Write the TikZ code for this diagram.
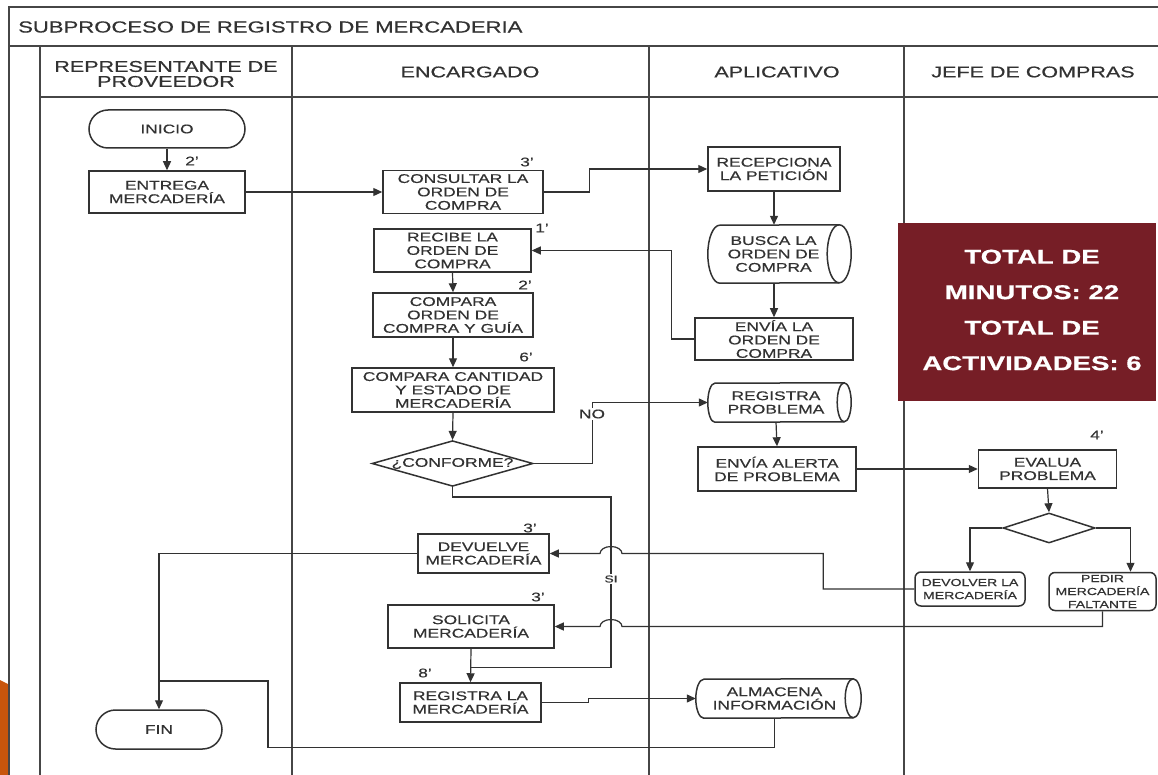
\documentclass[tikz,border=0pt]{standalone}
\usepackage{fontspec}
\setmainfont{Liberation Sans}[FakeStretch=1.38, FakeBold=0.5]
\usetikzlibrary{arrows.meta,shapes.geometric,shapes.misc,calc}

\definecolor{ink}{RGB}{50,50,50}
\definecolor{rulegray}{RGB}{70,70,70}
\definecolor{maroon}{RGB}{118,30,38}
\definecolor{accent}{RGB}{200,85,12}

\newcommand\txttitle{\fontsize{16}{18}\selectfont}
\newcommand\txthead{\fontsize{15.6}{15}\selectfont}
\newcommand\txtbox{\fontsize{12.6}{13.4}\selectfont}
\newcommand\txtsmall{\fontsize{10.2}{13}\selectfont}
\newcommand\txtsi{\fontsize{10}{12}\selectfont}
\newcommand\txttotal{\fontsize{20}{35.5}\selectfont\bfseries}

\tikzset{
  gridline/.style={draw=rulegray, line width=1.6pt},
  box/.style={draw=ink, line width=1.5pt, text=ink, align=center, inner sep=1pt, font=\txtbox},
  term/.style={box, rounded rectangle},
  soft/.style={box, rounded corners=6pt, font=\txtsmall},
  decision/.style={box, diamond, inner sep=0pt},
  storebody/.style={draw=none, text=ink, align=center, inner sep=1pt, font=\txtbox},
  storeline/.style={draw=ink, line width=1.5pt},
  flow/.style={draw=ink, line width=1.2pt, -{Triangle[length=9pt,width=8pt]}},
  link/.style={draw=ink, line width=1.2pt},
  timelab/.style={text=ink, font=\txtbox, inner sep=0pt},
  lanehead/.style={text=ink, font=\txthead, align=center},
}

% horizontal storage drum: convex left end, open ellipse on the right
\newcommand\storenode[6]{%
  \node[storebody, minimum width=#3pt, minimum height=#4pt] (#1) at #2 {#6};
  \draw[storeline] ([xshift=#5pt]#1.south west)
      arc[start angle=90, end angle=270, x radius=#5, y radius=#4/2]
      -- (#1.north east)
      arc[start angle=270, end angle=450, x radius=#5, y radius=#4/2] -- cycle;
  \draw[storeline] (#1.north east)
      arc[start angle=270, end angle=90, x radius=#5, y radius=#4/2];
}

\begin{document}
\begin{tikzpicture}[x=1pt, y=-1pt]
\useasboundingbox (0,0) rectangle (1158,775);
\fill[white] (0,0) rectangle (1158,775);

% accent strip at the lower left edge
\fill[accent] (0,680) -- (8,684) -- (8,775) -- (0,775) -- cycle;

% pool and lanes
\draw[gridline] (9,775) -- (9,7) -- (1160,7);
\draw[gridline] (9,46) -- (1160,46);
\draw[gridline] (40,775) -- (40,46);
\draw[gridline] (40,97) -- (1160,97);
\draw[gridline] (292,46) -- (292,775);
\draw[gridline] (649,46) -- (649,775);
\draw[gridline] (904,46) -- (904,775);

\node[anchor=west, text=ink, font=\txttitle, inner sep=0pt] (title) at (18,27) {SUBPROCESO DE REGISTRO DE MERCADERIA};
\node[lanehead] (h1) at (166,74) {REPRESENTANTE DE\\PROVEEDOR};
\node[lanehead] (h2) at (470,72) {ENCARGADO};
\node[lanehead] (h3) at (777,72) {APLICATIVO};
\node[lanehead] (h4) at (1033,72) {JEFE DE COMPRAS};

% representante de proveedor
\node[term, minimum width=158pt, minimum height=38pt] (inicio) at (167,129) {INICIO};
\node[box, minimum width=156pt, minimum height=42pt] (entrega) at (167,192) {ENTREGA\\MERCADERÍA};
\node[term, minimum width=128pt, minimum height=39pt] (fin) at (159,729.5) {FIN};

% encargado
\node[box, minimum width=160pt, minimum height=43pt] (consultar) at (463,192) {CONSULTAR LA\\ORDEN DE\\COMPRA};
\node[box, minimum width=157pt, minimum height=43pt] (recibe) at (452.5,250.5) {RECIBE LA\\ORDEN DE\\COMPRA};
\node[box, minimum width=160pt, minimum height=44pt] (compara) at (453,315) {COMPARA\\ORDEN DE\\COMPRA Y GUÍA};
\node[box, minimum width=202pt, minimum height=44pt] (compcant) at (453,390) {COMPARA CANTIDAD\\Y ESTADO DE\\MERCADERÍA};
\node[decision, minimum width=161pt, minimum height=45pt, aspect=3.5] (conf) at (452.5,463.5) {¿CONFORME?};
\node[box, minimum width=131pt, minimum height=39pt] (devuelve) at (483.5,553.5) {DEVUELVE\\MERCADERÍA};
\node[box, minimum width=166pt, minimum height=43pt] (solicita) at (471,626.5) {SOLICITA\\MERCADERÍA};
\node[box, minimum width=141pt, minimum height=39pt] (regm) at (470.5,702.5) {REGISTRA LA\\MERCADERÍA};

% aplicativo
\node[box, minimum width=132pt, minimum height=44pt] (recep) at (774,169) {RECEPCIONA\\LA PETICIÓN};
\storenode{busca}{(773.5,254)}{131}{58}{12}{BUSCA LA\\ORDEN DE\\COMPRA}
\node[box, minimum width=158pt, minimum height=42pt] (enviao) at (774,339) {ENVÍA LA\\ORDEN DE\\COMPRA};
\storenode{regprob}{(776,402.5)}{136}{39}{7}{REGISTRA\\PROBLEMA}
\node[box, minimum width=158pt, minimum height=44pt] (alerta) at (777,469) {ENVÍA ALERTA\\DE PROBLEMA};
\storenode{alm}{(774.5,698.5)}{157}{39}{8}{ALMACENA\\INFORMACIÓN}

% jefe de compras
\node[box, minimum width=138pt, minimum height=38pt] (evalua) at (1047.5,469) {EVALUA\\PROBLEMA};
\node[decision, minimum width=92pt, minimum height=30pt, aspect=3] (dec) at (1049,528) {};
\node[soft, minimum width=110pt, minimum height=34pt] (devolver) at (970,589) {DEVOLVER LA\\MERCADERÍA};
\node[soft, minimum width=107pt, minimum height=38pt] (pedir) at (1102.5,591.5) {PEDIR\\MERCADERÍA\\FALTANTE};

% time labels
\node[timelab] (m1) at (192,161) {2'};
\node[timelab] (m2) at (527,162) {3'};
\node[timelab] (m3) at (542,228) {1'};
\node[timelab] (m4) at (525,285) {2'};
\node[timelab] (m5) at (526,357) {6'};
\node[timelab] (m6) at (530,528) {3'};
\node[timelab] (m7) at (538,597) {3'};
\node[timelab] (m8) at (425,673) {8'};
\node[timelab] (m9) at (1097,435) {4'};

% helper points for the routed lines
\coordinate (hopx) at (611,497);
\coordinate (sij) at ($(regm.north)+(0,-15)$);
\coordinate (loopc) at (268,681);

% connectors
\draw[flow] (inicio.south) -- (entrega.north);
\draw[flow] (entrega.east) -- (consultar.west);
\draw[flow] (consultar.east) -- ++(46,0) |- (recep.west);
\draw[flow] (recep.south) -- (recep.south |- busca.north);
\draw[flow] (recep.south |- busca.south) -- (recep.south |- enviao.north);
\draw[flow] (enviao.west) -- ++(-23,0) |- (recibe.east);
\draw[flow] (recibe.south) -- (compara.north);
\draw[flow] (compara.south) -- (compcant.north);
\draw[flow] (compcant.south) -- (conf.north);
\draw[flow] (conf.east) -- ++(59,0) |- (regprob.west);
\node[timelab, fill=white, inner sep=1.5pt] (nolab) at (592,414) {NO};
\draw[flow] (regprob.south) -- (alerta.north);
\draw[flow] (alerta.east) -- (evalua.west);
\draw[flow] (evalua.south) -- (dec.north);
\draw[flow] (dec.west) -| (devolver.north);
\draw[flow] (dec.east) -| ([xshift=28pt]pedir.north);

% "si" branch runs down to the line feeding the final registration
\draw[link] (conf.south) |- (hopx) -- (hopx |- sij) -- (sij);
\node[fill=white, text=ink, font=\txtsi, inner sep=1.5pt] (silab) at (611,579) {SI};

% returns from the jefe de compras, hopping over the "si" line
\draw[flow] (devolver.west) -- ++(-91,0) |- ($(hopx |- devuelve.east)+(11,0)$)
   arc[start angle=0, end angle=-180, x radius=11, y radius=7] -- (devuelve.east);
\draw[flow] (pedir.south) |- ($(hopx |- solicita.east)+(11,0)$)
   arc[start angle=0, end angle=-180, x radius=11, y radius=7] -- (solicita.east);

\draw[flow] (devuelve.west) -| (fin.north);
\draw[flow] (solicita.south) -- (regm.north);
\draw[flow] (regm.east) -- ++(47,0) |- (alm.west);
\draw[link] (alm.south) -- ++(0,29) -| (loopc) -- (fin.north |- loopc);

% summary panel
\node[fill=maroon, minimum width=258pt, minimum height=178pt, inner sep=0pt] (totbox) at (1027,312) {};
\node[text=white, font=\txttotal, align=center, inner sep=0pt] (tottxt) at (1032,310) {TOTAL DE\\MINUTOS: 22\\TOTAL DE\\ACTIVIDADES: 6};
\end{tikzpicture}
\end{document}
